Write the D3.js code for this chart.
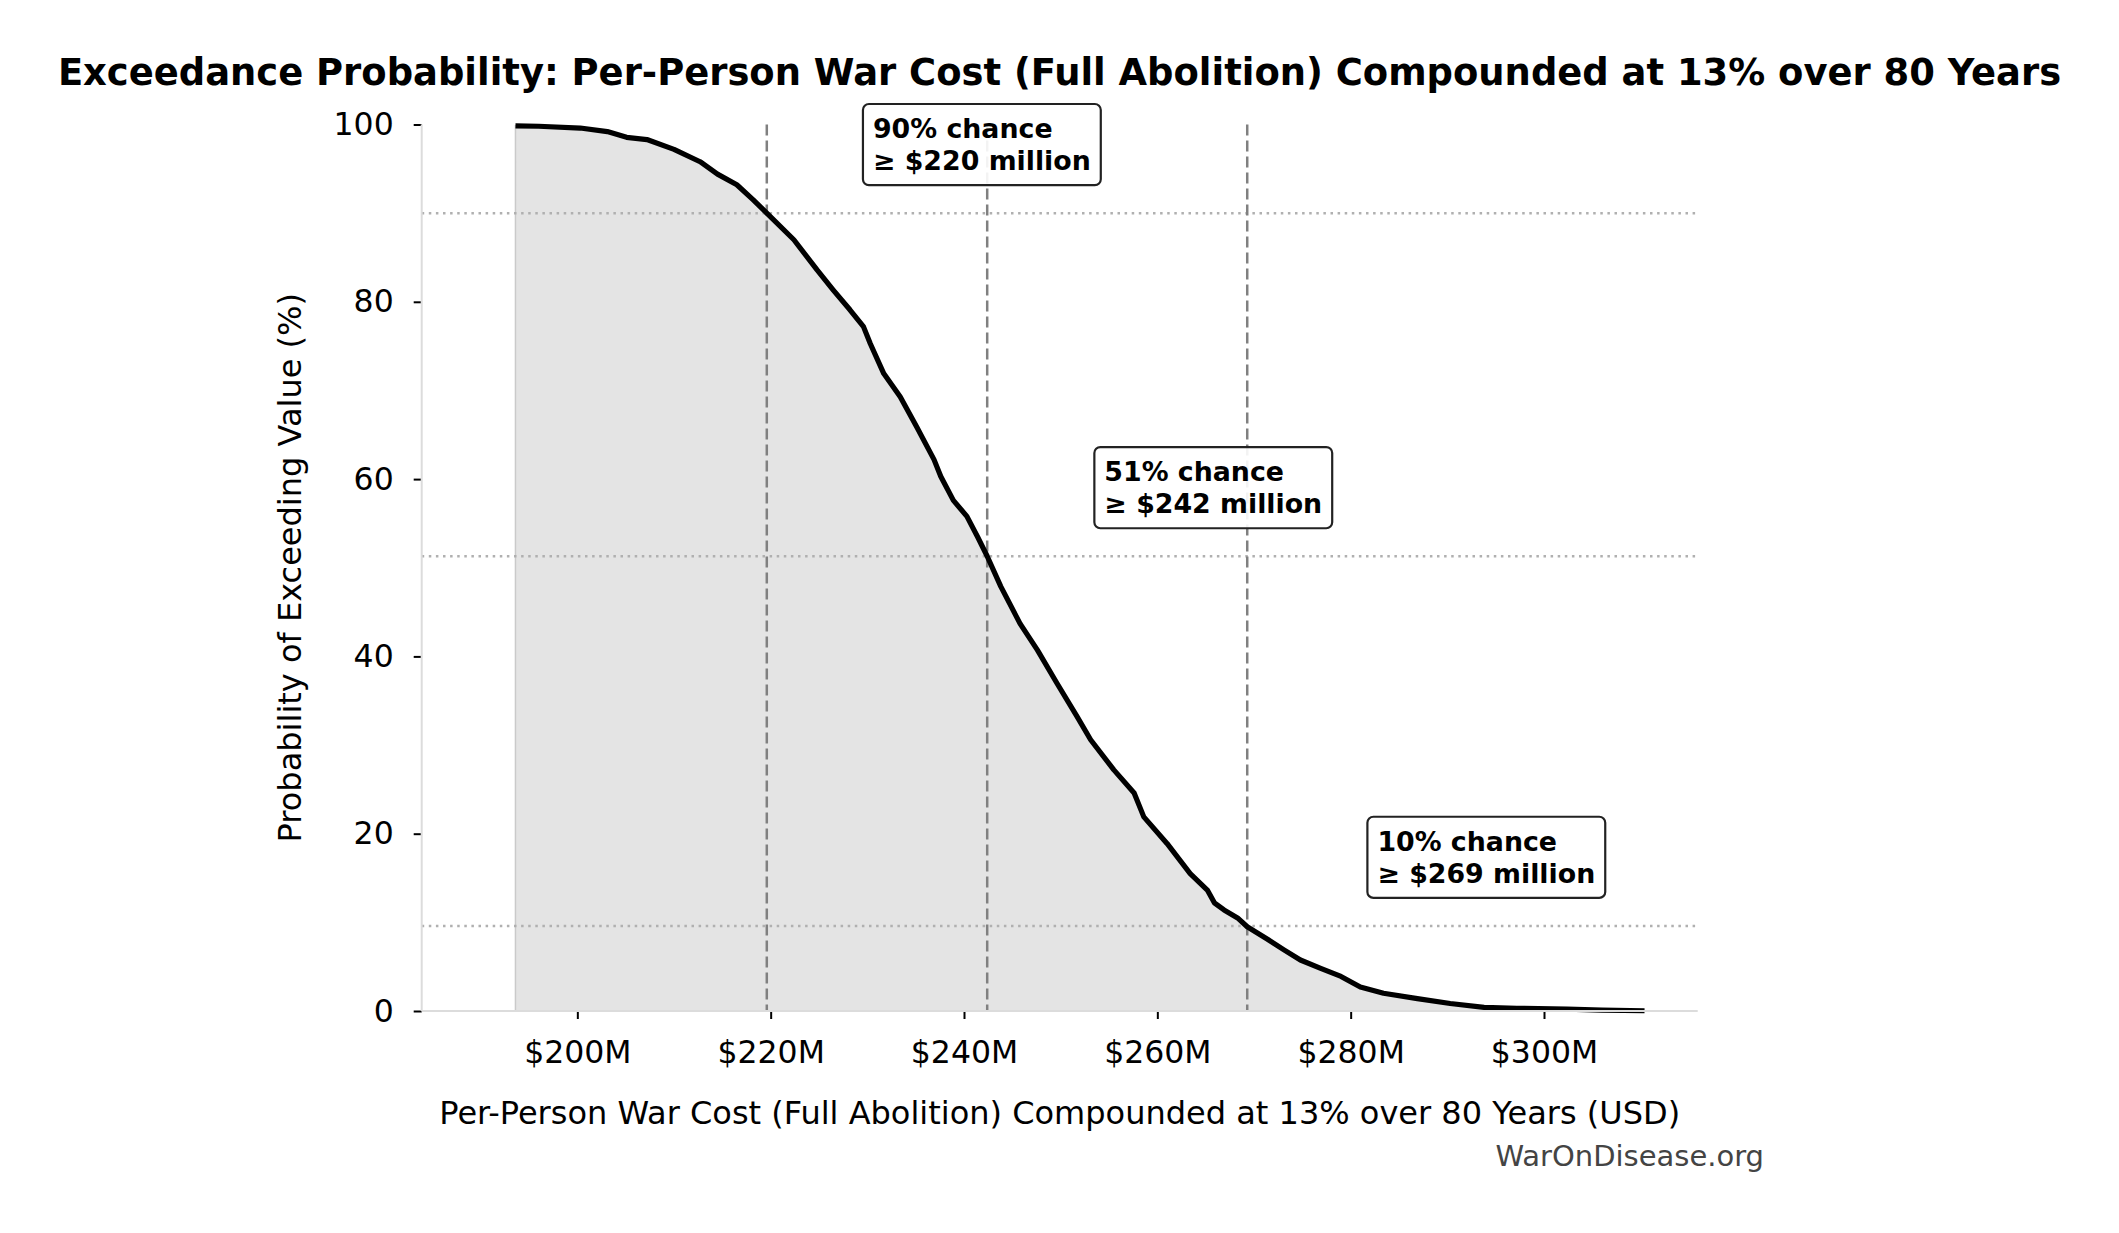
<!DOCTYPE html>
<html>
<head>
<meta charset="utf-8">
<script src="https://cdn.jsdelivr.net/npm/d3@7"></script>
<style>
  body { margin: 0; background: #fff; }
  text { font-family: "DejaVu Sans", sans-serif; }
</style>
</head>
<body>
<div id="chart"></div>
<script>
// exceedance curve (cost in $M, % chance of exceeding)
var costM = [193.6, 196.0, 200.3, 203.1, 205.1, 207.2, 210.0, 212.7, 214.5, 216.5,
  218.2, 219.6, 222.4, 224.8, 226.5, 228.2, 229.6, 230.3, 231.7, 233.4,
  235.1, 236.9, 237.6, 238.9, 240.3, 241.4, 242.4, 243.8, 245.8, 247.6,
  249.6, 251.7, 253.1, 255.5, 257.6, 258.6, 261.0, 263.4, 265.2, 265.9,
  266.9, 268.3, 269.3, 271.4, 273.1, 274.8, 276.9, 279.0, 281.0, 283.4,
  286.9, 290.3, 293.8, 297.2, 302.4, 306.0, 310.4];
var exceedPct = [99.85, 99.8, 99.6, 99.2, 98.55, 98.3, 97.2, 95.8, 94.4, 93.2,
  91.5, 90.0, 87.0, 83.6, 81.3, 79.1, 77.2, 75.3, 71.9, 69.3,
  65.9, 62.2, 60.3, 57.6, 55.8, 53.5, 51.3, 47.9, 43.7, 40.7,
  37.0, 33.2, 30.6, 27.2, 24.6, 21.9, 18.9, 15.5, 13.6, 12.2,
  11.4, 10.5, 9.5, 8.1, 6.9, 5.75, 4.8, 3.9, 2.7, 2.0,
  1.4, 0.85, 0.41, 0.3, 0.22, 0.1, 0.03];

// percentile markers
var markerCost = [219.6, 242.4, 269.3];
var markerPct = [90.0, 51.3, 9.6];
var markerLine1 = ["90% chance", "51% chance", "10% chance"];
var markerLine2 = ["\u2265 $220 million", "\u2265 $242 million", "\u2265 $269 million"];

var xTicks = [200, 220, 240, 260, 280, 300];
var yTicks = [0, 20, 40, 60, 80, 100];
var xDomain = [183.9, 315.9];
var yDomain = [0, 100];

var svgWidth = 2119;
var svgHeight = 1233;
var margin = { top: 124.5, right: 421.3, bottom: 222, left: 421.7 };
var width = svgWidth - margin.left - margin.right;
var height = svgHeight - margin.top - margin.bottom;

var svg = d3.select("#chart")
  .append("svg")
  .attr("width", svgWidth)
  .attr("height", svgHeight);

var chartGroup = svg.append("g")
  .attr("transform", `translate(${margin.left}, ${margin.top})`);

var xScale = d3.scaleLinear().domain(xDomain).range([0, width]);
var yScale = d3.scaleLinear().domain(yDomain).range([height, 0]);

var curve = costM.map((c, i) => ({ cost: c, pct: exceedPct[i] }));

// shaded area under the curve
var area = d3.area()
  .x(d => xScale(d.cost))
  .y0(yScale(0))
  .y1(d => yScale(d.pct));
chartGroup.append("path")
  .datum(curve)
  .attr("d", area)
  .attr("fill", "#e4e4e4")
  .attr("stroke", "#cacaca")
  .attr("stroke-width", 1.5);

// horizontal dotted lines at the marker probabilities
chartGroup.selectAll(".hline")
  .data(markerPct)
  .enter()
  .append("line")
  .attr("x1", 0)
  .attr("x2", width)
  .attr("y1", d => yScale(d))
  .attr("y2", d => yScale(d))
  .attr("stroke", "#b0b0b0")
  .attr("stroke-width", 2.5)
  .attr("stroke-dasharray", "2.5,4.6");

// vertical dashed lines at the marker values
chartGroup.selectAll(".vline")
  .data(markerCost)
  .enter()
  .append("line")
  .attr("x1", d => xScale(d))
  .attr("x2", d => xScale(d))
  .attr("y1", 0)
  .attr("y2", height)
  .attr("stroke", "#808080")
  .attr("stroke-width", 2.5)
  .attr("stroke-dasharray", "11,5");

// the exceedance curve
var line = d3.line()
  .x(d => xScale(d.cost))
  .y(d => yScale(d.pct));
chartGroup.append("path")
  .datum(curve)
  .attr("d", line)
  .attr("fill", "none")
  .attr("stroke", "#000")
  .attr("stroke-width", 5.2)
  .attr("stroke-linejoin", "round");

// axes
var bottomAxis = d3.axisBottom(xScale)
  .tickValues(xTicks)
  .tickFormat(d => `$${d}M`)
  .tickSize(8)
  .tickPadding(22);
var leftAxis = d3.axisLeft(yScale)
  .tickValues(yTicks)
  .tickSize(8)
  .tickPadding(20);

var xAxisG = chartGroup.append("g")
  .attr("transform", `translate(0, ${height})`)
  .call(bottomAxis);
var yAxisG = chartGroup.append("g")
  .call(leftAxis);

[xAxisG, yAxisG].forEach(function(g) {
  g.select(".domain").remove();
  g.selectAll(".tick line").attr("stroke", "#000").attr("stroke-width", 2);
  g.selectAll(".tick text")
    .attr("fill", "#000")
    .style("font-size", "31.5px")
    .style("font-family", "DejaVu Sans");
});

// light spines, left and bottom only
chartGroup.append("line")
  .attr("x1", 0).attr("x2", 0)
  .attr("y1", 0).attr("y2", height)
  .attr("stroke", "#dcdcdc").attr("stroke-width", 2);
chartGroup.append("line")
  .attr("x1", 0).attr("x2", width)
  .attr("y1", height).attr("y2", height)
  .attr("stroke", "#dcdcdc").attr("stroke-width", 2);

// annotation boxes
var fontAnn = 26.8;
markerCost.forEach(function(c, i) {
  var g = chartGroup.append("g");
  var tx = xScale(c * 1.05);
  var cy = yScale(markerPct[i] + 7.8);
  var t = g.append("text")
    .attr("x", tx)
    .attr("y", cy - 6)
    .style("font-size", fontAnn + "px")
    .style("font-weight", "bold")
    .attr("fill", "#000");
  t.append("tspan").attr("x", tx).text(markerLine1[i]);
  t.append("tspan").attr("x", tx).attr("dy", 1.2 * fontAnn).text(markerLine2[i]);
  var bb = t.node().getBBox();
  g.insert("rect", "text")
    .attr("x", bb.x - 10)
    .attr("y", bb.y - 9)
    .attr("width", bb.width + 20)
    .attr("height", bb.height + 18)
    .attr("rx", 6)
    .attr("fill", "#fff")
    .attr("fill-opacity", 0.9)
    .attr("stroke", "#222")
    .attr("stroke-width", 2.2);
});

// title and axis labels
svg.append("text")
  .attr("x", svgWidth / 2)
  .attr("y", 85)
  .attr("text-anchor", "middle")
  .style("font-size", "36.9px")
  .style("font-weight", "bold")
  .text("Exceedance Probability: Per-Person War Cost (Full Abolition) Compounded at 13% over 80 Years");

svg.append("text")
  .attr("x", margin.left + width / 2)
  .attr("y", 1124)
  .attr("text-anchor", "middle")
  .style("font-size", "32px")
  .text("Per-Person War Cost (Full Abolition) Compounded at 13% over 80 Years (USD)");

svg.append("text")
  .attr("transform", `translate(301, ${margin.top + height / 2}) rotate(-90)`)
  .attr("text-anchor", "middle")
  .style("font-size", "32px")
  .text("Probability of Exceeding Value (%)");

svg.append("text")
  .attr("x", 1764)
  .attr("y", 1166)
  .attr("text-anchor", "end")
  .attr("fill", "#444")
  .style("font-size", "29px")
  .text("WarOnDisease.org");
</script>
</body>
</html>
